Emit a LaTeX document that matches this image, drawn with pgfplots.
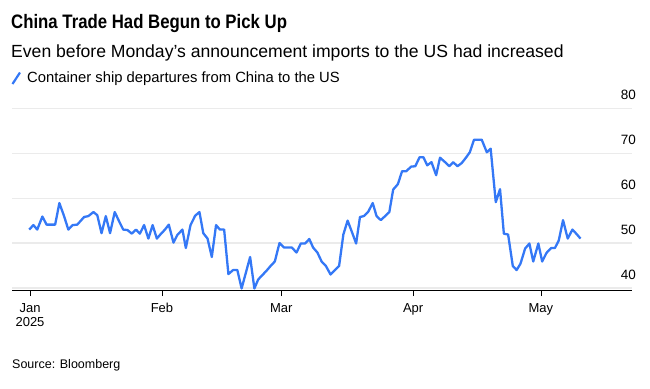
\documentclass[border=0pt]{standalone}
\usepackage{fontspec}
\setmainfont{Liberation Sans}
\newfontfamily\titlefont[FakeStretch=0.86]{Liberation Sans Bold}
\usepackage{pgfplots}
\pgfplotsset{compat=1.18}
\definecolor{lineblue}{RGB}{52,120,246}
\definecolor{gridgray}{RGB}{235,235,235}
\begin{document}
\begin{tikzpicture}[x=1pt,y=1pt]
\begin{axis}[
  at={(12pt,-290pt)}, anchor=south west,
  scale only axis, width=620pt, height=182pt,
  xmin=-4.23, xmax=141.4, ymin=39.56, ymax=80.05,
  axis x line*=bottom, axis y line*=right,
  x axis line style={-, line width=1pt, black},
  y axis line style={draw=none},
  xtick={0,31,59,90,120},
  xticklabels={{Jan\\2025},Feb,Mar,Apr,May},
  xticklabel style={align=center, font=\fontsize{13}{14}\selectfont, yshift=-4pt},
  x tick style={black, line width=0.8pt},
  tick align=outside, major tick length=6pt,
  ytick={40,50,60,70,80},
  y tick style={draw=none},
  yticklabel pos=right,
  yticklabel style={anchor=base east, inner sep=0pt, xshift=-2pt, yshift=9pt, font=\fontsize{13.5}{14}\selectfont},
  /pgf/number format/assume math mode=true,
  ymajorgrids, grid style={gridgray, line width=1.2pt},
  clip=false,
]
\addplot[lineblue, line width=2.3pt, line join=round, no markers] coordinates {
(-0.2,53.0)(0.8,54.0)(1.7,53.0)(2.9,55.9)(3.9,54.1)(4.9,54.1)(5.9,54.1)(6.9,58.9)(8.0,56.0)(9.0,53.0)
(10.0,54.0)(11.1,54.1)(12.7,55.8)(13.7,56.0)(14.9,56.9)(15.8,56.2)(16.8,52.2)(17.8,56.0)(18.8,52.2)(19.9,56.9)
(21.1,54.5)(21.9,53.0)(22.9,52.9)(23.9,52.1)(24.9,53.0)(25.8,52.1)(26.8,54.0)(27.8,51.0)(28.8,54.0)(29.8,51.0)
(30.7,52.0)(31.7,53.0)(32.6,54.1)(33.7,50.1)(34.6,51.8)(35.8,53.0)(36.6,48.9)(37.7,54.0)(38.8,56.1)(39.8,56.9)
(40.7,52.2)(41.7,51.0)(42.7,46.9)(43.7,54.0)(44.6,53.0)(45.6,53.0)(46.6,43.1)(47.7,44.0)(48.7,44.0)(49.7,39.9)
(51.7,46.9)(52.7,39.9)(53.6,41.9)(54.6,42.9)(55.6,43.9)(56.5,44.9)(57.5,45.9)(58.6,50.0)(59.7,49.0)(60.6,49.0)
(61.5,49.0)(62.6,47.9)(63.6,49.9)(64.6,49.9)(65.6,50.9)(66.5,49.0)(67.5,47.9)(68.5,45.9)(69.5,44.9)(70.6,43.0)
(71.6,44.0)(72.6,44.9)(73.6,51.9)(74.6,55.0)(75.6,52.5)(76.6,49.9)(77.5,55.8)(78.4,56.0)(79.4,56.9)(80.5,58.9)
(81.4,56.0)(82.4,55.1)(83.4,56.0)(84.4,56.9)(85.3,61.9)(86.4,63.1)(87.4,66.0)(88.4,66.0)(89.5,67.0)(90.5,67.1)
(91.5,69.1)(92.4,69.1)(93.3,67.3)(94.3,68.0)(95.4,65.1)(96.3,69.0)(97.5,68.0)(98.5,67.1)(99.4,68.0)(100.4,67.1)
(101.4,67.8)(102.4,69.0)(103.3,70.2)(104.3,73.0)(105.2,73.0)(106.1,73.0)(107.3,70.2)(108.2,71.0)(109.4,59.1)(110.4,62.0)
(111.3,52.1)(112.3,51.9)(113.4,44.9)(114.3,44.0)(115.2,45.4)(116.3,48.8)(117.3,49.9)(118.2,45.9)(119.4,49.9)(120.3,45.9)
(121.3,47.8)(122.4,48.9)(123.3,48.9)(124.2,50.6)(125.2,55.1)(126.3,51.0)(127.4,53.0)(128.4,52.0)(129.3,51.0)
};
\end{axis}
\node[anchor=base west, inner sep=0pt, font=\fontsize{19.5}{20}\titlefont] at (11,-28) {China Trade Had Begun to Pick Up};
\node[anchor=base west, inner sep=0pt, font=\fontsize{17.6}{19}\selectfont] at (11,-57) {Even before Monday's announcement imports to the US had increased};
\draw[lineblue, line width=2.2pt] (12.5,-84) -- (20,-72.5);
\node[anchor=base west, inner sep=0pt, font=\fontsize{14.8}{16}\selectfont] at (27,-82) {Container ship departures from China to the US};
\node[anchor=base west, inner sep=0pt, font=\fontsize{12.5}{14}\selectfont] at (12,-368) {Source: Bloomberg};
\pgfresetboundingbox
\path[use as bounding box] (0,0) rectangle (650,-388);
\end{tikzpicture}
\end{document}
